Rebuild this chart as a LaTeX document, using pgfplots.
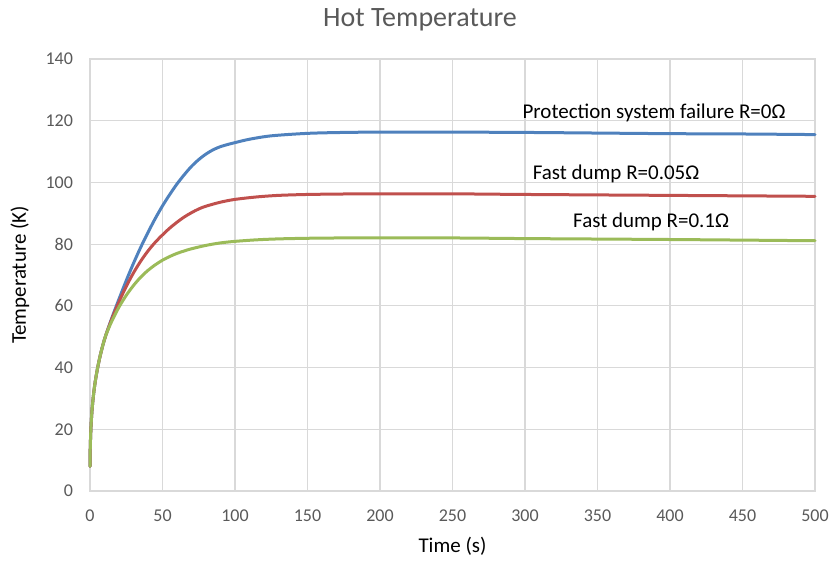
\documentclass[border=0pt]{standalone}
\usepackage{pgfplots}
\pgfplotsset{compat=1.18}
\usepackage{fontspec}
\setmainfont{Carlito}
\definecolor{tickgray}{HTML}{595959}
\definecolor{gridgray}{HTML}{D9D9D9}
\definecolor{cblue}{HTML}{4F81BD}
\definecolor{cred}{HTML}{C0504D}
\definecolor{cgreen}{HTML}{9BBB59}
\begin{document}
\begin{tikzpicture}
\begin{axis}[
  at={(0,0)}, anchor=south west,
  scale only axis, width=362.5pt, height=216pt,
  xmin=0, xmax=500, ymin=0, ymax=140,
  xtick={0,50,...,500}, ytick={0,20,...,140},
  grid=major, grid style={gridgray, line width=0.6pt},
  axis line style={gridgray, line width=0.6pt},
  major tick length=0pt,
  tick label style={font=\fontsize{9}{10}\selectfont, text=tickgray},
  /pgf/number format/assume math mode=true,
  xticklabel style={yshift=-6pt},
  yticklabel style={xshift=-5pt},
  every axis plot/.append style={line width=1.5pt, line join=round, line cap=round, smooth, tension=0.5},
  clip=false,
]
\addplot[cblue] coordinates {
(0,8)(0.1,12)(0.3,16)(0.6,20)(1,23.5)(1.5,26.8)(2.2,30.2)(3,33.4)(4,36.6)(5.3,40)(7,43.8)(9,47.5)(11,50.6)
(15,56.0)(20,62.2)(25,68.2)(30,73.8)(35,79.0)(40,83.8)(45,88.3)(50,92.4)(55,96.1)(60,99.5)(65,102.5)(70,105.2)
(75,107.4)(80,109.2)(85,110.6)(90,111.6)(95,112.3)(100,112.9)(110,114.0)(125,115.1)(150,115.9)(175,116.2)(200,116.3)(250,116.3)
(300,116.2)(350,116)(400,115.8)(450,115.7)(500,115.5)};
\addplot[cred] coordinates {
(0,8)(0.1,12)(0.3,16)(0.6,20)(1,23.5)(1.5,26.8)(2.2,30.2)(3,33.4)(4,36.6)(5.3,40)(7,43.8)(9,47.5)(11,50.6)
(15,55.7)(20,61.3)(25,66.3)(30,70.7)(35,74.5)(40,77.8)(45,80.6)(50,83.0)(55,85.2)(60,87.1)(65,88.8)(70,90.2)
(75,91.4)(80,92.3)(90,93.6)(100,94.5)(115,95.3)(130,95.8)(150,96.1)(175,96.25)(200,96.3)(250,96.3)(300,96.1)(400,95.8)(500,95.5)};
\addplot[cgreen] coordinates {
(0,8)(0.1,12)(0.3,16)(0.6,20)(1,23.5)(1.5,26.8)(2.2,30.2)(3,33.4)(4,36.6)(5.3,40)(7,43.8)(9,47.5)(11,50.6)
(15,55.0)(20,59.6)(25,63.4)(30,66.6)(35,69.3)(40,71.5)(45,73.3)(50,74.8)(55,76.0)(60,77.0)(65,77.8)(70,78.5)
(80,79.6)(90,80.4)(100,80.9)(115,81.4)(130,81.7)(150,81.9)(175,82)(250,82)(300,81.8)(400,81.5)(500,81.1)};
\node[font=\fontsize{10.5}{12}\selectfont] at (axis cs:389,122.5) {Protection system failure R=0Ω};
\node[font=\fontsize{10.5}{12}\selectfont] at (axis cs:362.8,102.7) {Fast dump R=0.05Ω};
\node[font=\fontsize{10.5}{12}\selectfont] at (axis cs:387,87.2) {Fast dump R=0.1Ω};
\end{axis}
\node[font=\fontsize{14}{16}\selectfont, text=tickgray] at (165pt,235.5pt) {Hot Temperature};
\node[font=\fontsize{10.5}{12}\selectfont, rotate=90] at (-35pt,108pt) {Temperature (K)};
\node[font=\fontsize{10.5}{12}\selectfont] at (181.25pt,-27.5pt) {Time (s)};
\pgfresetboundingbox
\path (-45pt,-35pt) rectangle (369.5pt,245.5pt);
\end{tikzpicture}
\end{document}
